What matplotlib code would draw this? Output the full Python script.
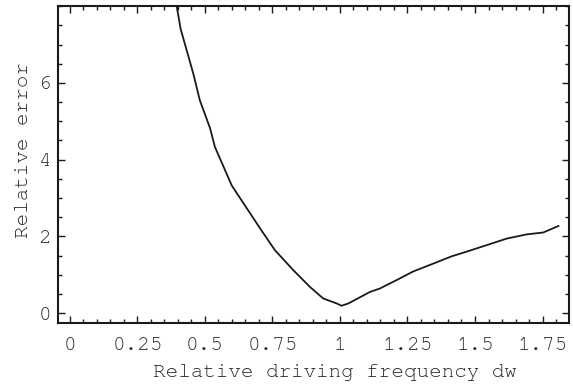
import matplotlib
matplotlib.use("Agg")
import matplotlib.pyplot as plt
from matplotlib.ticker import MultipleLocator

# curve
freq = [0.393, 0.395, 0.41, 0.457, 0.481, 0.519, 0.537, 0.599, 0.611, 0.704, 0.759,
        0.827, 0.889, 0.938, 0.988, 1.006, 1.031, 1.111, 1.148, 1.21, 1.27, 1.346,
        1.414, 1.469, 1.543, 1.617, 1.691, 1.753, 1.809]
rel_err = [8.3, 8.02, 7.41, 6.24, 5.55, 4.82, 4.33, 3.33, 3.2, 2.21, 1.64,
           1.12, 0.68, 0.38, 0.25, 0.19, 0.25, 0.55, 0.64, 0.86, 1.08, 1.29,
           1.48, 1.6, 1.77, 1.94, 2.05, 2.1, 2.27]

x_ticks = [0, 0.25, 0.5, 0.75, 1, 1.25, 1.5, 1.75]
x_labels = ["0", "0.25", "0.5", "0.75", "1", "1.25", "1.5", "1.75"]
y_ticks = [0, 2, 4, 6]

# serif courier-like if present, else liberation mono
plt.rcParams["font.family"] = ["Nimbus Mono PS", "FreeMono", "Courier New",
                               "Liberation Mono", "DejaVu Sans Mono"]
txt = "#2a2a2a"

fig = plt.figure(figsize=(5.73, 3.85), dpi=100)
ax = fig.add_axes([0.1012, 0.161, 0.8918, 0.823])
ax.plot(freq, rel_err, color="#1a1a1a", lw=1.3)

ax.set_xlim(-0.044, 1.848)
ax.set_ylim(-0.26, 8.0)
ax.set_xticks(x_ticks)
ax.set_xticklabels(x_labels)
ax.set_yticks(y_ticks)
ax.xaxis.set_minor_locator(MultipleLocator(0.05))
ax.yaxis.set_minor_locator(MultipleLocator(0.5))
ax.tick_params(which="both", direction="in", top=True, right=True,
               colors="#1a1a1a", labelcolor=txt, labelsize=15, width=1)
ax.tick_params(which="major", length=5)
ax.tick_params(which="minor", length=3)
ax.tick_params(axis="x", pad=10)
ax.tick_params(axis="y", pad=5)
for s in ax.spines.values():
    s.set_linewidth(1.5)
    s.set_color("#1a1a1a")

ax.set_xlabel("Relative driving frequency dw", fontsize=15, color=txt)
ax.set_ylabel("Relative error", fontsize=15, color=txt)
ax.xaxis.set_label_coords(0.541, -0.128)
ax.yaxis.set_label_coords(-0.05, 0.546)

fig.savefig("out.png", dpi=100)
